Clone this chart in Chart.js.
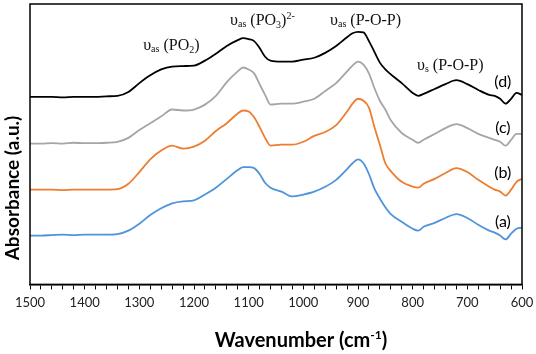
<!DOCTYPE html>
<html>
<head>
<meta charset="utf-8">
<script src="https://cdn.jsdelivr.net/npm/chart.js@4.4.1/dist/chart.umd.min.js"></script>
<style>
  body { margin: 0; background: #fff; }
</style>
</head>
<body>
<canvas id="ftir" width="536" height="354"></canvas>
<script>
// wavenumber (cm-1), common to all four spectra
const wavenumbers = [
  1500, 1480, 1460, 1440, 1420, 1400, 1380, 1360, 1340,
  1320, 1300, 1280, 1260, 1240, 1220, 1200, 1180, 1160, 1140, 1120,
  1110, 1100, 1090, 1080, 1070, 1060,
  1040, 1020, 1000, 980, 960, 940, 920,
  910, 900, 890, 880, 870, 860, 850, 840,
  820, 800, 790, 780, 760, 740, 720, 700, 680, 660, 650, 640, 630, 620, 610, 600
];

// absorbance (a.u., stacked offsets included)
const spectrumD = [
  192, 192, 192, 191.5, 192, 192, 192, 192.5, 193,
  197, 206, 214, 220, 223, 223.5, 224, 229, 236, 244, 250,
  252, 251, 249, 242, 233, 229,
  228, 228, 230, 232, 237, 244, 253,
  257, 258.5, 258, 249, 238, 227, 220, 215,
  206, 196, 193, 195, 200, 205, 209, 205, 199, 194, 193, 190, 185, 190, 196, 194
];
const spectrumC = [
  144, 144, 144.5, 144, 145, 144.5, 144.5, 145, 146,
  150, 158, 165, 172, 179, 178, 179, 184, 193, 207, 218,
  222, 220, 216, 205, 194, 184,
  185, 185, 187, 190, 198, 206, 218,
  224, 228, 225, 216, 201, 188, 179, 168,
  155, 148, 145, 148, 154, 160, 164, 160, 154, 150, 148, 146, 142, 148, 154, 154
];
const spectrumB = [
  97, 97, 97, 96.5, 97, 97, 97, 97, 97.5,
  103, 115, 128, 137, 142, 139, 141, 147, 157, 165, 175,
  178, 177, 171, 161, 150, 142,
  143, 143, 146, 152, 156, 163, 177,
  185, 190, 188, 181, 161, 143, 124, 116,
  105, 100, 99, 103, 108, 114, 119, 115, 107, 100, 97, 95, 91, 97, 105, 108
];
const spectrumA = [
  50, 50, 50.5, 51, 50.5, 51, 51, 51, 51.5,
  55, 62, 71, 78, 83, 85, 86, 92, 99, 108, 117,
  120, 120, 119, 113, 104, 99,
  95, 90, 92, 95, 100, 107, 118,
  124, 128, 124, 113, 98, 88, 79, 72,
  64, 57, 55, 59, 63, 68, 72, 68, 61, 55, 53, 50, 46, 52, 57, 58
];

const seriesNames = ['(d)', '(c)', '(b)', '(a)'];
const seriesColors = ['#000000', '#a5a5a5', '#ed7d31', '#4d94db'];

// band assignments: [wavenumber, absorbance, main, subscript, rest, subscript, close, superscript]
const bandLabels = [
  [1293, 240, 'υ', 'as', ' (PO', '2', ')', ''],
  [1134, 265, 'υ', 'as', ' (PO', '3', ')', '2-'],
  [951, 266, 'υ', 'as', ' (P-O-P)', '', '', ''],
  [792, 219, 'υ', 's', ' (P-O-P)', '', '', '']
];
// curve tags: wavenumber, absorbance of the tag centre
const tagWavenumber = 635;
const tagLevels = [207, 160, 114, 64];

function pts(values) {
  return values.map((v, i) => ({ x: wavenumbers[i], y: v }));
}

function drawRuns(ctx, runs, x, y) {
  let cx = x;
  runs.forEach(r => {
    if (!r.t) return;
    ctx.font = r.font;
    ctx.fillText(r.t, cx, y + (r.dy || 0));
    cx += ctx.measureText(r.t).width;
  });
}

function runsWidth(ctx, runs) {
  let w = 0;
  runs.forEach(r => {
    if (!r.t) return;
    ctx.font = r.font;
    w += ctx.measureText(r.t).width;
  });
  return w;
}

const decorations = {
  id: 'decorations',
  afterDraw(chart) {
    const ctx = chart.ctx;
    const area = chart.chartArea;
    const xs = chart.scales.x;
    const ys = chart.scales.y;
    ctx.save();

    // frame round the plot
    ctx.strokeStyle = '#000';
    ctx.lineWidth = 1.5;
    ctx.strokeRect(area.left, area.top, area.right - area.left, area.bottom - area.top);

    // band labels (serif)
    ctx.fillStyle = '#111';
    ctx.textBaseline = 'alphabetic';
    ctx.textAlign = 'left';
    const serif = 'Liberation Serif';
    bandLabels.forEach(b => {
      const x = xs.getPixelForValue(b[0]);
      const y = ys.getPixelForValue(b[1]);
      drawRuns(ctx, [
        { t: b[2], font: '16px "' + serif + '"' },
        { t: b[3], font: '10px "' + serif + '"', dy: 2 },
        { t: b[4], font: '16px "' + serif + '"' },
        { t: b[5], font: '10px "' + serif + '"', dy: 3 },
        { t: b[6], font: '16px "' + serif + '"' },
        { t: b[7], font: '10px "' + serif + '"', dy: -6 }
      ], x, y);
    });

    // curve tags
    ctx.font = '16px Lato';
    ctx.textAlign = 'center';
    ctx.textBaseline = 'middle';
    ctx.fillStyle = '#000';
    tagLevels.forEach((lv, i) => {
      ctx.fillText(seriesNames[i], xs.getPixelForValue(tagWavenumber), ys.getPixelForValue(lv));
    });

    // x title with superscript
    ctx.textAlign = 'left';
    ctx.textBaseline = 'alphabetic';
    const xRuns = [
      { t: 'Wavenumber (cm', font: 'bold 20px Lato' },
      { t: '-1', font: 'bold 12px Lato', dy: -8 },
      { t: ')', font: 'bold 20px Lato' }
    ];
    const w = runsWidth(ctx, xRuns);
    drawRuns(ctx, xRuns, 301 - w / 2, 347);

    // y title
    ctx.translate(19, 188);
    ctx.rotate(-Math.PI / 2);
    ctx.textAlign = 'center';
    ctx.font = 'bold 19px Lato';
    ctx.fillText('Absorbance (a.u.)', 0, 0);

    ctx.restore();
  }
};

const ctx = document.getElementById('ftir').getContext('2d');
new Chart(ctx, {
  type: 'line',
  data: {
    datasets: [spectrumD, spectrumC, spectrumB, spectrumA].map((s, i) => ({
      label: seriesNames[i],
      data: pts(s),
      borderColor: seriesColors[i],
      borderWidth: 1.8,
      pointRadius: 0,
      cubicInterpolationMode: 'monotone',
      fill: false
    }))
  },
  options: {
    responsive: false,
    animation: false,
    layout: { padding: { left: 30, right: 14, top: 4, bottom: 37 } },
    plugins: {
      legend: { display: false },
      tooltip: { enabled: false }
    },
    scales: {
      x: {
        type: 'linear',
        reverse: true,
        min: 600,
        max: 1500,
        afterFit: axis => { axis.paddingRight = 0; axis.paddingLeft = 0; },
        grid: {
          drawOnChartArea: false,
          drawTicks: true,
          tickLength: 5,
          color: '#000',
          lineWidth: 1
        },
        border: { display: true, color: '#000', width: 1.5 },
        ticks: {
          stepSize: 20,
          autoSkip: false,
          maxRotation: 0,
          padding: 6,
          color: '#222',
          font: { family: 'Lato', size: 13 },
          callback: v => (Math.round(v) % 100 === 0 ? Math.round(v) : '')
        }
      },
      y: {
        display: false,
        min: 0,
        max: 287
      }
    }
  },
  plugins: [decorations]
});
</script>
</body>
</html>
